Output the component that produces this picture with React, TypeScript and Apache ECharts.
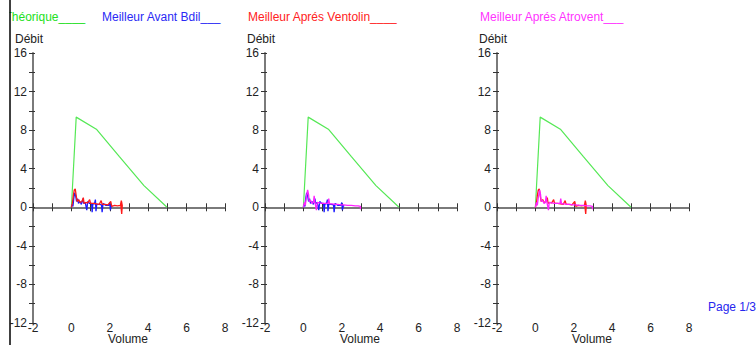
import React, { useEffect, useRef } from "react";
import * as echarts from "echarts";

// ---- data ----
const volumeRange = [-2, 8];
const flowRange = [-12, 16];
const volumeLabelStep = 2;
const flowTickStep = 2;
const flowLabelStep = 4;

const theorique: [number, number][] = [
  [0, 0], [0.25, 9.35], [1.3, 8.1], [2.5, 5.25], [3.78, 2.25], [4.98, 0],
];

const avantBdil: [number, number][] = [
  [0, 0], [0.04, 0.3], [0.08, 0.1], [0.12, 0.9], [0.17, 1.5], [0.22, 1.2], [0.27, 0.6],
  [0.32, 0.9], [0.37, 0.4], [0.45, 0.6], [0.52, 0.3], [0.6, 0.9], [0.64, 0.4], [0.72, 0.5],
  [0.8, -0.3], [0.85, 0.6], [0.95, 0.4], [1.05, 0.4], [1.08, -0.5], [1.12, 0.4], [1.2, 0.35],
  [1.25, 0.8], [1.28, -0.4], [1.32, 0.3], [1.45, 0.3], [1.57, 0.25], [1.6, -0.5], [1.65, 0.4],
  [1.8, 0.2], [1.95, 0.2], [2.0, 0.5], [2.03, -0.3], [2.08, 0.2], [2.12, 0.1],
];

const apresVentolin: [number, number][] = [
  [0, 0], [0.05, 0.4], [0.1, 1.2], [0.15, 1.8], [0.2, 1.9], [0.25, 1.2], [0.3, 0.6],
  [0.38, 0.8], [0.45, 0.5], [0.55, 0.6], [0.62, 1.0], [0.66, 0.4], [0.75, 0.5], [0.85, 0.45],
  [0.95, 0.8], [1.0, 0.4], [1.15, 0.4], [1.3, 0.35], [1.45, 0.3], [1.55, 0.7], [1.6, 0.3],
  [1.75, 0.3], [1.9, 0.25], [2.05, 0.6], [2.1, 0.1], [2.25, 0.2], [2.4, 0.15], [2.55, 0.2],
  [2.6, 0.7], [2.65, 0.2], [2.62, -0.7], [2.58, 0.1], [2.63, 0.5],
];

const apresAtrovent: [number, number][] = [
  [0, 0], [0.05, 0.5], [0.1, 0.2], [0.15, 1.0], [0.22, 1.8], [0.27, 1.3], [0.3, 0.6],
  [0.38, 0.7], [0.45, 0.4], [0.52, 0.5], [0.56, 1.2], [0.6, 0.5], [0.68, -0.3], [0.72, 0.5],
  [0.85, 0.45], [1.0, 0.4], [1.15, 0.4], [1.28, 0.4], [1.32, 0.9], [1.36, 0.35], [1.5, 0.35],
  [1.65, 0.3], [1.8, 0.3], [1.95, 0.25], [2.1, 0.25], [2.3, 0.2], [2.5, 0.2], [2.7, 0.15],
  [2.85, 0.15], [2.97, 0.1], [2.97, -0.2],
];

const legendTexts = [
  "Théorique____",
  "Meilleur Avant Bdil___",
  "Meilleur Aprés Ventolin____",
  "Meilleur Aprés Atrovent___",
];
const yAxisTitle = "Débit";
const xAxisTitle = "Volume";
const pageText = "Page 1/3";

// traces per panel (drawn after the theoretical curve)
const traces: Record<string, [number, number][]> = { avantBdil, apresVentolin, apresAtrovent };
const panels = [
  ["avantBdil", "apresVentolin"],
  ["avantBdil", "apresAtrovent"],
  ["apresVentolin", "apresAtrovent"],
];

// ---- styles ----
const COLORS: Record<string, string> = {
  theorique: "#55e855",
  avantBdil: "#1a1aff",
  apresVentolin: "#ff1a1a",
  apresAtrovent: "#ff22ff",
};
const LEGEND_COLORS = ["#22e022", "#2a2af5", "#ff2222", "#ff33ff"];
const LEGEND_X = [4.5, 102, 248, 480];
const PANEL_LEFT = [33, 265, 497];
const GRID_TOP = 53;
const GRID_W = 192;
const GRID_H = 270;
const FONT = "'Liberation Sans', Arial, sans-serif";

export default function App() {
  const ref = useRef<HTMLDivElement>(null);
  useEffect(() => {
    const chart = echarts.init(ref.current!, undefined, { renderer: "svg" });
    const grid: any[] = [];
    const xAxis: any[] = [];
    const yAxis: any[] = [];
    const series: any[] = [];
    const graphic: any[] = [];

    PANEL_LEFT.forEach((left, i) => {
      const gA = 3 * i;     // visible line axes + data
      const gB = 3 * i + 1; // mirrored ticks
      const gC = 3 * i + 2; // bottom labels
      for (let k = 0; k < 3; k++) {
        grid.push({
          left, top: GRID_TOP, width: GRID_W, height: GRID_H,
          containLabel: false, outerBoundsMode: "none",
        });
      }
      const base = {
        type: "value",
        min: volumeRange[0],
        max: volumeRange[1],
        splitLine: { show: false },
        position: "bottom",
      };
      const yBase = {
        type: "value",
        min: flowRange[0],
        max: flowRange[1],
        interval: flowTickStep,
        position: "left",
        splitLine: { show: false },
      };
      // grid A: x line with upward ticks, y line with outside ticks + labels
      xAxis.push({
        ...base, gridIndex: gA, interval: 1,
        axisLine: { show: true, onZero: true, lineStyle: { color: "#7a7a7a", width: 2 } },
        axisTick: { show: true, inside: true, length: 4, lineStyle: { color: "#333", width: 1 } },
        axisLabel: { show: false },
      });
      yAxis.push({
        ...yBase, gridIndex: gA,
        axisLine: { show: true, onZero: false, lineStyle: { color: "#7a7a7a", width: 2 } },
        axisTick: { show: true, inside: false, length: 4, lineStyle: { color: "#333", width: 1 } },
        axisLabel: {
          show: true, margin: 6, color: "#222", fontSize: 12, fontFamily: FONT,
          formatter: (v: number) => (v % flowLabelStep === 0 ? String(v) : ""),
        },
      });
      // grid B: mirrored ticks
      xAxis.push({
        ...base, gridIndex: gB, interval: 1,
        axisLine: { show: false, onZero: true },
        axisTick: { show: true, inside: false, length: 4, lineStyle: { color: "#333", width: 1 } },
        axisLabel: { show: false },
      });
      yAxis.push({
        ...yBase, gridIndex: gB,
        axisLine: { show: false, onZero: false },
        axisTick: { show: true, inside: true, length: 2, lineStyle: { color: "#333", width: 1 } },
        axisLabel: { show: false },
      });
      // grid C: bottom labels
      xAxis.push({
        ...base, gridIndex: gC, interval: volumeLabelStep,
        axisLine: { show: false, onZero: false },
        axisTick: { show: false },
        axisLabel: { show: true, margin: -1, color: "#222", fontSize: 12, fontFamily: FONT },
      });
      yAxis.push({
        ...yBase, gridIndex: gC, show: false,
        axisLine: { show: false, onZero: false },
      });

      series.push({
        type: "line", xAxisIndex: gA, yAxisIndex: gA, data: theorique,
        showSymbol: false, lineStyle: { color: COLORS.theorique, width: 1.2 }, z: 2,
      });
      panels[i].forEach((key, k) => {
        series.push({
          type: "line", xAxisIndex: gA, yAxisIndex: gA, data: traces[key],
          showSymbol: false, lineStyle: { color: COLORS[key], width: 1.3 }, z: 3 + k,
        });
      });

      graphic.push({
        type: "text", left: left - 18, top: 33, z: 5,
        style: { text: yAxisTitle, fill: "#222", font: `12px ${FONT}` },
      });
      graphic.push({
        type: "text", x: left + GRID_W / 2 - 1, y: 338.5, z: 5,
        style: {
          text: xAxisTitle, fill: "#222", font: `12px ${FONT}`,
          align: "center", verticalAlign: "middle",
        },
      });
    });

    legendTexts.forEach((t, i) => {
      graphic.push({
        type: "text", x: LEGEND_X[i], y: 17, z: 5,
        style: { text: t, fill: LEGEND_COLORS[i], font: `12px ${FONT}`, verticalAlign: "middle" },
      });
    });
    graphic.push({
      type: "rect", shape: { x: 0, y: 0, width: 9.5, height: 40 }, z: 10,
      style: { fill: "#fff" },
    });
    graphic.push({
      type: "line", shape: { x1: 10, y1: 0, x2: 10, y2: 345 }, z: 11,
      style: { stroke: "#000", lineWidth: 1.5 },
    });
    graphic.push({
      type: "text", x: 708, y: 307, z: 5,
      style: { text: pageText, fill: "#2626ee", font: `12px ${FONT}`, verticalAlign: "middle" },
    });

    chart.setOption({
      animation: false,
      backgroundColor: "#fff",
      textStyle: { fontFamily: FONT },
      grid, xAxis, yAxis, series, graphic,
    });
    return () => chart.dispose();
  }, []);
  return (
    <div
      ref={ref}
      style={{ position: "fixed", left: 0, top: 0, width: 756, height: 345 }}
    />
  );
}
